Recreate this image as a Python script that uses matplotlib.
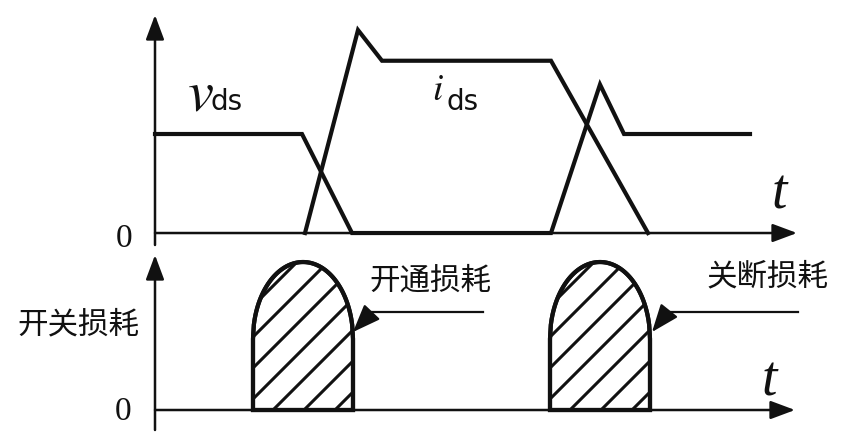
import numpy as np
import matplotlib
matplotlib.use('Agg')
import matplotlib.pyplot as plt
from matplotlib.patches import Polygon

plt.rcParams['font.family'] = ['Noto Sans CJK SC', 'DejaVu Sans']
plt.rcParams['mathtext.fontset'] = 'stix'

# ---------------- data ----------------
# top panel: drain-source voltage and current (time in arbitrary units)
vds_t = [0.0, 14.7, 19.7, 39.6, 44.5, 46.9, 59.5]
vds_v = [1.0, 1.0, 0.0, 0.0, 1.5, 1.0, 1.0]
ids_t = [15.0, 20.3, 22.7, 39.6, 49.3]
ids_v = [0.0, 2.05, 1.74, 1.74, 0.0]

# bottom panel: switching-loss pulses
loss_start = [9.8, 39.5]
loss_end = [19.8, 49.5]
loss_peak = [1.495, 1.495]
loss_shoulder = [0.72, 0.72]
loss_labels = ['开通损耗', '关断损耗']
ylabel_bottom = '开关损耗'

INK = '#111111'

fig = plt.figure(figsize=(8.5, 4.41), dpi=100)
W, H = 850.0, 441.0

def add_axes_px(left, right, top, bottom):
    return fig.add_axes([left / W, (H - bottom) / H, (right - left) / W, (bottom - top) / H])

def axis_arrows(ax, x0, x1, y0, y1, color=INK):
    kw = dict(arrowstyle='-|>,head_length=0.75,head_width=0.28', color=color,
              lw=1.8, shrinkA=0, shrinkB=0, mutation_scale=20)
    ax.annotate('', xy=(0, y1), xytext=(0, y0), arrowprops=kw, annotation_clip=False)
    ax.annotate('', xy=(x1, 0), xytext=(x0, 0), arrowprops=kw, annotation_clip=False)

# ---------------- top panel ----------------
ax1 = add_axes_px(155, 797, 15, 245)
ax1.set_xlim(0, 64.2)
ax1.set_ylim(-0.121, 2.202)
ax1.axis('off')
axis_arrows(ax1, 0, 64.2, -0.121, 2.202)
ax1.plot(vds_t, vds_v, color=INK, lw=3.0, solid_joinstyle='miter', clip_on=False)
ax1.plot(ids_t, ids_v, color=INK, lw=3.0, solid_joinstyle='miter', clip_on=False)

ax1.text(3.2, 1.24, r'$v$', fontsize=42, color=INK, ha='left', va='baseline')
ax1.text(5.6, 1.24, 'ds', fontsize=20, family='DejaVu Sans', color=INK, ha='left', va='baseline')
ax1.text(27.7, 1.343, r'$i$', fontsize=27, color=INK, ha='left', va='baseline')
ax1.text(29.2, 1.242, 'ds', fontsize=20, family='DejaVu Sans', color=INK, ha='left', va='baseline')
ax1.text(61.7, 0.2525, 't', fontsize=40, family='Liberation Serif', style='italic',
         color=INK, ha='left', va='baseline')
ax1.text(-3.1, -0.141, '0', fontsize=24, family='Liberation Serif', color=INK,
         ha='center', va='baseline')

# ---------------- bottom panel ----------------
ax2 = add_axes_px(155, 797, 255, 430)
ax2.set_xlim(0, 64.2)
ax2.set_ylim(-0.202, 1.566)
ax2.axis('off')
axis_arrows(ax2, 0, 64.0, -0.202, 1.566)

fig.canvas.draw()
p0 = ax2.transData.transform((0, 0))
p1 = ax2.transData.transform((1, 1))
slope = (p1[0] - p0[0]) / (p1[1] - p0[1])  # 45 degrees on screen

for a, b, pk, sh in zip(loss_start, loss_end, loss_peak, loss_shoulder):
    c = 0.5 * (a + b)
    w = 0.5 * (b - a)
    u = np.linspace(-1, 1, 121)
    xs = np.concatenate([[a], c + w * u, [b]])
    ys = np.concatenate([[0], sh + (pk - sh) * np.sqrt(np.clip(1 - u ** 2, 0, 1)), [0]])
    poly = Polygon(np.column_stack([xs, ys]), closed=True, facecolor='white',
                   edgecolor=INK, lw=3.0, zorder=3)
    ax2.add_patch(poly)
    clip = Polygon(np.column_stack([xs, ys]), closed=True, transform=ax2.transData)
    for k in range(-7, 3):
        x0 = a + 2.0 + 3.1 * k
        ln, = ax2.plot([x0, x0 + 20], [0, 20 * slope], color=INK, lw=2.2, zorder=4)
        ln.set_clip_path(clip)
    poly2 = Polygon(np.column_stack([xs, ys]), closed=True, facecolor='none',
                    edgecolor=INK, lw=3.0, zorder=5)
    ax2.add_patch(poly2)

# annotation leaders
tips = [(19.8, 0.788), (49.7, 0.788)]
corners = [(21.7, 0.99), (51.3, 0.99)]
ends = [(32.8, 0.99), (64.3, 0.99)]
for (tx, ty), (cx, cy), (ex, ey) in zip(tips, corners, ends):
    ax2.plot([cx, ex], [cy, ey], color=INK, lw=1.6, clip_on=False)
    ax2.annotate('', xy=(tx, ty), xytext=(cx, cy),
                 arrowprops=dict(arrowstyle='-|>,head_length=0.9,head_width=0.35',
                                 color=INK, lw=1.6, shrinkA=0, shrinkB=0,
                                 mutation_scale=19),
                 annotation_clip=False)

ax2.text(27.5, 1.303, loss_labels[0], fontsize=22, color=INK, ha='center', va='center')
ax2.text(61.2, 1.343, loss_labels[1], fontsize=22, color=INK, ha='center', va='center')
ax2.text(-7.7, 0.859, ylabel_bottom, fontsize=22, color=INK, ha='center', va='center')
ax2.text(60.7, 0.15, 't', fontsize=40, family='Liberation Serif', style='italic',
         color=INK, ha='left', va='baseline')
ax2.text(-3.2, -0.101, '0', fontsize=24, family='Liberation Serif', color=INK,
         ha='center', va='baseline')

fig.savefig('out.png', dpi=100, facecolor='white')
